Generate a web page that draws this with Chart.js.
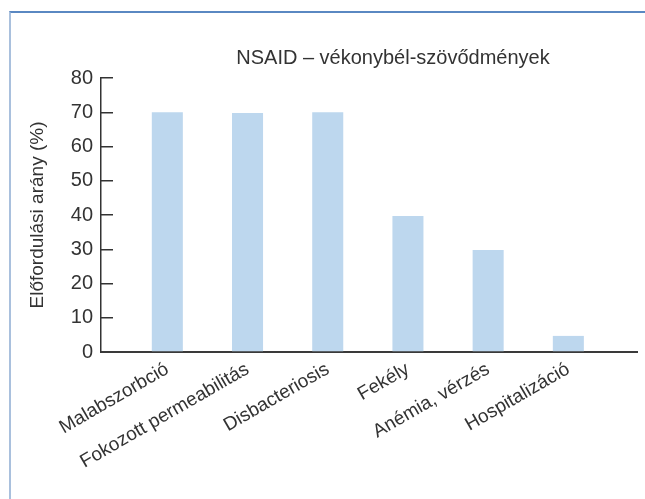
<!DOCTYPE html>
<html lang="hu">
<head>
  <meta charset="UTF-8" />
  <title>NSAID – vékonybél-szövődmények</title>
  <style>
    body {
      margin: 0;
      background: white;
    }
    #keret {
      position: absolute;
      left: 9px;
      top: 11px;
      width: 700px;
      height: 600px;
      border-top: 2px solid #5a88c2;
      border-left: 2px solid #a9c0dd;
    }
    #doboz {
      position: absolute;
      left: 0;
      top: 0;
      width: 645px;
      height: 499px;
    }
  </style>
  <script src="https://cdn.jsdelivr.net/npm/chart.js"></script>
</head>
<body>
  <div id="keret"></div>
  <div id="doboz">
    <canvas id="grafikon" width="645" height="499"></canvas>
  </div>

  <script>
    const cim = "NSAID – vékonybél-szövődmények";
    const kategoriak = [
      "Malabszorbció",
      "Fokozott permeabilitás",
      "Disbacteriosis",
      "Fekély",
      "Anémia, vérzés",
      "Hospitalizáció"
    ];
    const ertekek = [70, 69.8, 70, 39.7, 29.8, 4.7];
    const yCim = "Előfordulási arány (%)";
    const yTickek = [0, 10, 20, 30, 40, 50, 60, 70, 80];

    const betu = "'Liberation Sans', Arial, sans-serif";
    Chart.defaults.font.family = betu;
    Chart.defaults.color = "#333";

    // cím a rajzterület fölött, kicsit jobbra tolva (mint az eredetin)
    const cimPlugin = {
      id: "cimPlugin",
      afterDraw(chart) {
        const ctx = chart.ctx;
        ctx.save();
        ctx.font = "20px " + betu;
        ctx.fillStyle = "#333";
        ctx.textAlign = "center";
        ctx.textBaseline = "alphabetic";
        ctx.fillText(cim, 393, 64);
        ctx.restore();
      }
    };

    new Chart(document.getElementById("grafikon"), {
      type: "bar",
      data: {
        datasets: [
          {
            data: ertekek.map((v, i) => ({ x: i, y: v })),
            backgroundColor: "#bdd7ee",
            borderWidth: 0,
            barPercentage: 0.387,
            categoryPercentage: 1
          }
        ]
      },
      options: {
        responsive: false,
        animation: false,
        layout: {
          autoPadding: false,
          padding: { left: 26, right: 8, top: 78, bottom: 0 }
        },
        plugins: {
          legend: { display: false },
          tooltip: { enabled: false }
        },
        scales: {
          x: {
            type: "linear",
            offset: false,
            min: -0.827,
            max: 5.856,
            afterBuildTicks: (s) => {
              s.ticks = kategoriak.map((_, i) => ({ value: i }));
            },
            afterFit: (s) => {
              s.height = 147;
            },
            grid: { display: false, drawTicks: false, offset: false },
            border: { display: true, color: "#3a3a3a", width: 2 },
            ticks: {
              autoSkip: false,
              minRotation: 30,
              maxRotation: 30,
              padding: 6,
              font: { size: 19 },
              color: "#333",
              callback: (v) => kategoriak[v]
            }
          },
          y: {
            min: 0,
            max: 80,
            afterBuildTicks: (s) => {
              s.ticks = yTickek.map((v) => ({ value: v }));
            },
            afterFit: (s) => {
              s.width = 75;
            },
            grid: {
              drawOnChartArea: false,
              drawTicks: true,
              tickLength: -12,
              color: "#333",
              lineWidth: 1.5
            },
            border: { display: true, color: "#333", width: 1.5 },
            ticks: {
              padding: 20,
              font: { size: 20 },
              color: "#333"
            },
            title: {
              display: true,
              text: yCim,
              font: { size: 19 },
              color: "#333",
              padding: { top: 0, bottom: 0 }
            }
          }
        }
      },
      plugins: [cimPlugin]
    });
  </script>
</body>
</html>
